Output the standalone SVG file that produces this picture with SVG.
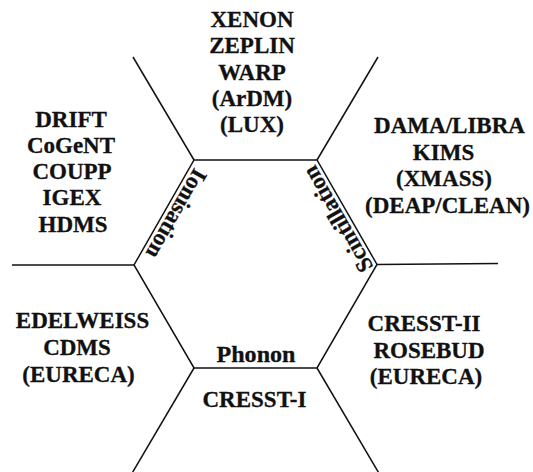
<svg xmlns="http://www.w3.org/2000/svg" width="533" height="472" viewBox="0 0 533 472">
<style>
  .t { font-family: "Liberation Serif", "Times New Roman", serif; font-weight: bold; font-size: 23px; fill: #111; stroke: #111; stroke-width: 0.3; text-anchor: middle; }
  .ln { stroke: #111; stroke-width: 1.5; fill: none; stroke-linecap: butt; stroke-linejoin: miter; }
</style>
<rect width="533" height="472" fill="#fff"/>
<g id="connectors">
  <polygon class="ln" points="194,160 317,160 377,264.5 317,368 194,368 134,265"/>
  <line class="ln" x1="194" y1="160" x2="133" y2="57"/>
  <line class="ln" x1="317" y1="160" x2="378" y2="57"/>
  <line class="ln" x1="134" y1="265" x2="12" y2="265"/>
  <line class="ln" x1="377" y1="264.5" x2="498" y2="263.5"/>
  <line class="ln" x1="194" y1="368" x2="131" y2="475"/>
  <line class="ln" x1="317" y1="368" x2="380" y2="475"/>
</g>
<g id="edge-ionisation">
  <text class="t" transform="translate(169.9,210.1) rotate(119.7)" x="0" y="0" textLength="99" lengthAdjust="spacingAndGlyphs">Ionisation</text>
</g>
<g id="edge-scintillation">
  <text class="t" transform="translate(344.3,215.5) rotate(-119.9)" x="0" y="0" textLength="118" lengthAdjust="spacingAndGlyphs">Scintillation</text>
</g>
<g id="edge-phonon">
  <text class="t" x="256" y="361.7" textLength="79" lengthAdjust="spacingAndGlyphs">Phonon</text>
</g>
<g id="region-top">
  <text class="t" x="252" y="27">XENON</text>
  <text class="t" x="252" y="53.3">ZEPLIN</text>
  <text class="t" x="252" y="79.6">WARP</text>
  <text class="t" x="252" y="105.9">(ArDM)</text>
  <text class="t" x="252" y="132.2">(LUX)</text>
</g>
<g id="region-left-top">
  <text class="t" x="71" y="126.5">DRIFT</text>
  <text class="t" x="71" y="152.8">CoGeNT</text>
  <text class="t" x="72" y="179.1">COUPP</text>
  <text class="t" x="72" y="205.4">IGEX</text>
  <text class="t" x="73" y="231.7">HDMS</text>
</g>
<g id="region-right-top">
  <text class="t" x="449.5" y="133.3">DAMA/LIBRA</text>
  <text class="t" x="443.5" y="159.8">KIMS</text>
  <text class="t" x="444" y="186.3">(XMASS)</text>
  <text class="t" x="447.5" y="212.8">(DEAP/CLEAN)</text>
</g>
<g id="region-left-bottom">
  <text class="t" x="82.5" y="328.3">EDELWEISS</text>
  <text class="t" x="77" y="355">CDMS</text>
  <text class="t" x="78.5" y="381.7">(EURECA)</text>
</g>
<g id="region-right-bottom">
  <text class="t" x="424" y="331">CRESST-II</text>
  <text class="t" x="429" y="357.7">ROSEBUD</text>
  <text class="t" x="426" y="384.4">(EURECA)</text>
</g>
<g id="region-bottom">
  <text class="t" x="254.5" y="406.7">CRESST-I</text>
</g>
</svg>
